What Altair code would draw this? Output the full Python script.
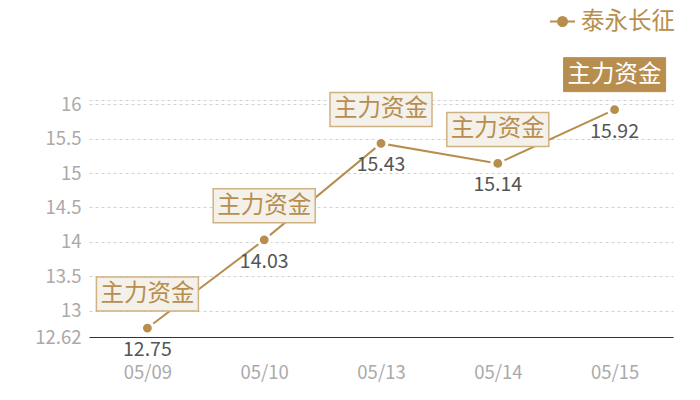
import altair as alt
import pandas as pd

dates = ["05/09", "05/10", "05/13", "05/14", "05/15"]
prices = [12.75, 14.03, 15.43, 15.14, 15.92]
notes = ["主力资金", "主力资金", "主力资金", "主力资金", "主力资金"]
highlight = [False, False, False, False, True]
series_name = "泰永长征"
y_ticks = [12.62, 13, 13.5, 14, 14.5, 15, 15.5, 16, 16.06]

GOLD = "#b88e4f"
FONT = "Noto Sans CJK SC"

df = pd.DataFrame({
    "date": dates,
    "price": prices,
    "note": notes,
    "hl": highlight,
    "series": [series_name] * len(dates),
})

x = alt.X("date:N", sort=None, scale=alt.Scale(padding=0.5),
          axis=alt.Axis(title=None, labelAngle=0, labelPadding=26, labelFontSize=18.5,
                        labelColor="#aaaaaa", domainColor="#333333", domainWidth=1,
                        ticks=False, grid=False, labelFont=FONT))
y = alt.Y("price:Q", scale=alt.Scale(domain=[12.62, 16.06], nice=False, zero=False),
          axis=alt.Axis(title=None, values=y_ticks, labelFontSize=18.5, labelColor="#aaaaaa",
                        domain=False, ticks=False, labelPadding=8, gridDash=[3, 3],
                        gridColor="#d2d2d2", labelFont=FONT,
                        labelExpr="datum.value > 16.01 ? '' : '' + datum.value"))

base = alt.Chart(df).encode(x=x, y=y)

legend_path = "M-1,0H1M0.36,0A0.36,0.36 0 1,1 -0.36,0A0.36,0.36 0 1,1 0.36,0Z"

line = base.mark_line(strokeWidth=2).encode(
    color=alt.Color("series:N", scale=alt.Scale(range=[GOLD]),
                    legend=alt.Legend(title=None, orient="none", legendX=460, legendY=-92,
                                      symbolType=legend_path, symbolSize=625,
                                      symbolStrokeWidth=2, symbolFillColor=GOLD,
                                      symbolStrokeColor=GOLD, labelFontSize=23.5,
                                      labelColor=GOLD, labelFont=FONT, labelOffset=5,
                                      padding=0))
)

points = base.mark_point(filled=True, size=140, fill=GOLD, stroke="white",
                         strokeWidth=3, opacity=1)

values = base.mark_text(dy=22, fontSize=19.5, color="#555555", font=FONT).encode(
    text=alt.Text("price:Q", format=".2f"))

box_path = "M-1,-0.3333H1V0.3333H-1Z"

normal = base.transform_filter("!datum.hl")
hot = base.transform_filter("datum.hl")

boxes = normal.mark_point(shape=box_path, size=102 * 102, filled=True, fill="#f4f0ea",
                          stroke="#cfb283", strokeWidth=1.5, opacity=1, yOffset=-34)
box_text = normal.mark_text(dy=-34, fontSize=23.5, color=GOLD, font=FONT,
                            baseline="middle").encode(text="note:N")

hot_box = hot.mark_point(shape=box_path, size=102 * 102, filled=True, fill=GOLD,
                         stroke=GOLD, strokeWidth=1, opacity=1, yOffset=-35)
hot_text = hot.mark_text(dy=-35, fontSize=23.5, color="white", font=FONT,
                         baseline="middle").encode(text="note:N")

chart = alt.layer(line, points, values, boxes, box_text, hot_box, hot_text).properties(
    width=584, height=237,
    autosize=alt.AutoSizeParams(type="none"),
    padding={"left": 81, "top": 92, "right": 18, "bottom": 54},
).configure(font=FONT).configure_view(stroke=None)

chart.save("out.html", embed_options={"renderer": "svg", "actions": False})
